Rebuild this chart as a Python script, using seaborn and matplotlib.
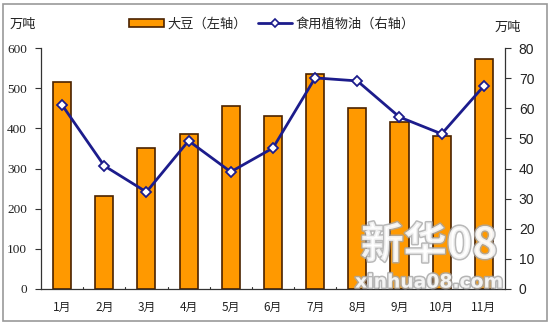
import matplotlib
matplotlib.use("Agg")
import matplotlib.pyplot as plt
import matplotlib.patheffects as pe
import seaborn as sns
import pandas as pd
from matplotlib.patches import Patch, Rectangle
from matplotlib.lines import Line2D

months = ["1月", "2月", "3月", "4月", "5月", "6月", "7月", "8月", "9月", "10月", "11月"]
soybean = [515, 231, 351, 387, 456, 430, 536, 452, 415, 381, 574]
veg_oil = [61.1, 40.9, 32.2, 49.2, 38.9, 46.8, 70.1, 69.1, 57.1, 51.5, 67.4]
left_ticks = [0, 100, 200, 300, 400, 500, 600]
right_ticks = [0, 10, 20, 30, 40, 50, 60, 70, 80]
soy_label = "大豆（左轴）"
oil_label = "食用植物油（右轴）"
unit = "万吨"
mark_big = "新华08"
mark_small = "xinhua08.com"

df = pd.DataFrame({"month": months, "soybean": soybean, "oil": veg_oil})

sns.set_theme(style="white")
plt.rcParams["font.family"] = ["Noto Sans CJK SC", "DejaVu Sans"]

bar_color = "#FF9900"
bar_edge = "#4a2200"
line_color = "#1c1c8c"

fig = plt.figure(figsize=(5.5, 3.25), dpi=100)
fig.patch.set_facecolor("white")
ax = fig.add_axes([0.0745, 0.111, 0.8435, 0.741])

sns.barplot(data=df, x="month", y="soybean", color=bar_color, width=0.43,
            edgecolor=bar_edge, linewidth=1.2, saturation=1, ax=ax)
ax.set_ylim(0, 600)
ax.set_xlim(-0.5, len(months) - 0.5)
ax.set_yticks(left_ticks)
ax.set_yticklabels([str(t) for t in left_ticks], family="Liberation Serif",
                   fontsize=9.5, color="#222222")
ax.set_xlabel("")
ax.set_ylabel("")
ax.set_xticks(range(len(months)))
ax.set_xticklabels(months, fontsize=8.5, color="#222222")
ax.tick_params(axis="x", length=0, pad=9)
ax.tick_params(axis="y", direction="out", length=4, width=0.8, color="#333333", pad=6,
               left=True)
for s in ["top", "right"]:
    ax.spines[s].set_visible(False)
for s in ["left", "bottom"]:
    ax.spines[s].set_color("#333333")
    ax.spines[s].set_linewidth(0.9)
# small inward marks between categories
for b in range(1, len(months)):
    ax.plot([b - 0.5, b - 0.5], [0, 6], color="#333333", lw=0.8, clip_on=False)

ax2 = ax.twinx()
sns.pointplot(data=df, x="month", y="oil", color=line_color, markers="D",
              linewidth=2.0, markersize=5, markerfacecolor="white",
              markeredgecolor=line_color, markeredgewidth=1.3, ax=ax2)
ax2.set_ylim(0, 80)
ax2.set_xlim(-0.5, len(months) - 0.5)
ax2.set_yticks(right_ticks)
ax2.set_yticklabels([str(t) for t in right_ticks], family="Liberation Sans",
                    fontsize=10, color="#222222")
ax2.set_ylabel("")
ax2.set_xlabel("")
ax2.tick_params(axis="y", direction="out", length=4, width=0.8, color="#333333", pad=6,
                right=True)
for s in ["top", "left", "bottom"]:
    ax2.spines[s].set_visible(False)
ax2.spines["right"].set_color("#333333")
ax2.spines["right"].set_linewidth(0.9)
ax2.grid(False)
ax.grid(False)

# unit labels
fig.text(0.018, 0.925, unit, fontsize=9.5, color="#222222", va="center")
fig.text(0.9, 0.915, unit, fontsize=9.5, color="#222222", va="center")

# legend
handles = [
    Patch(facecolor=bar_color, edgecolor=bar_edge, linewidth=1.2),
    Line2D([0], [0], color=line_color, lw=2.0, marker="D", markersize=4.5,
           markerfacecolor="white", markeredgecolor=line_color, markeredgewidth=1.2),
]
fig.legend(handles, [soy_label, oil_label], loc="center", bbox_to_anchor=(0.495, 0.925),
           ncol=2, frameon=False, fontsize=9.5, handlelength=2.6, handleheight=0.6,
           columnspacing=0.8, handletextpad=0.3)

# watermark stamped over the lower right of the plot
stamp = [pe.withStroke(linewidth=2.2, foreground="#a8a8a8")]
fig.text(0.78, 0.245, mark_big, fontsize=31, color="white", alpha=0.8, ha="center",
         va="center", weight="bold", path_effects=stamp)
fig.text(0.78, 0.132, mark_small, fontsize=13.5, color="white", alpha=0.85, ha="center",
         va="center", weight="bold", family="DejaVu Sans", path_effects=stamp)

# outer frame
fig.add_artist(Rectangle((0.006, 0.012), 0.988, 0.976, transform=fig.transFigure,
                         fill=False, edgecolor="#999999", linewidth=1.2))

fig.savefig("out.png", dpi=100)
